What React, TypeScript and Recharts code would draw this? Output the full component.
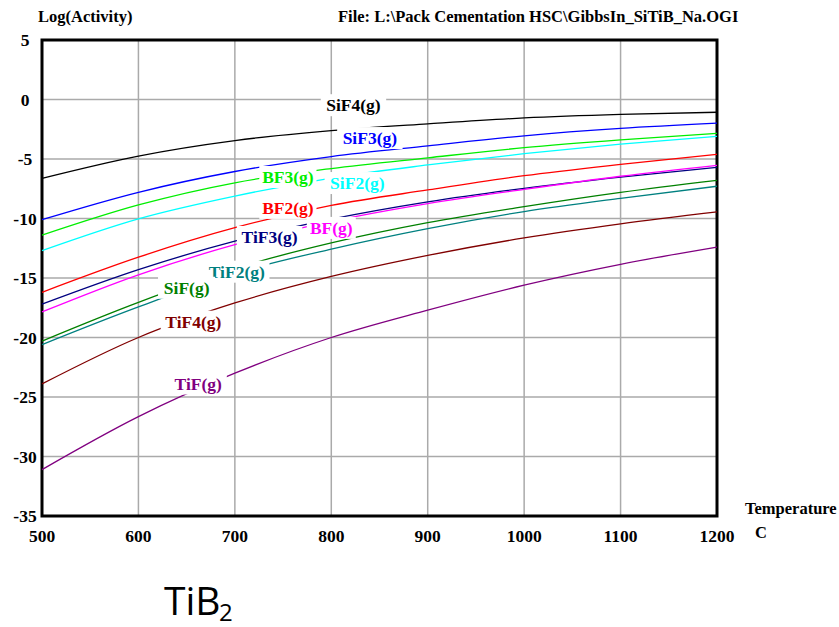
import React from "react";
import {
  LineChart, Line, XAxis, YAxis, CartesianGrid, ReferenceArea, ReferenceDot,
} from "recharts";

// temperature (C) and log(activity)
const temps = [500, 600, 700, 800, 900, 1000, 1100, 1200];
const sif4 = [-6.62, -4.75, -3.45, -2.62, -2.05, -1.55, -1.25, -1.07];
const sif3 = [-10.1, -7.8, -6.05, -4.8, -3.9, -3.05, -2.43, -1.99];
const bf3 = [-11.4, -8.86, -7.0, -5.8, -4.9, -4.05, -3.4, -2.85];
const sif2 = [-12.7, -10.03, -8.12, -6.6, -5.5, -4.55, -3.75, -3.1];
const bf2 = [-16.2, -13.25, -10.77, -8.9, -7.6, -6.4, -5.45, -4.6];
const tif3 = [-17.2, -14.3, -11.9, -10.05, -8.6, -7.46, -6.52, -5.7];
const bf = [-17.85, -14.73, -12.2, -10.25, -8.75, -7.55, -6.45, -5.53];
const sif = [-20.3, -17.05, -14.2, -12.05, -10.35, -9.0, -7.8, -6.79];
const tif2 = [-20.6, -17.43, -14.6, -12.57, -10.85, -9.42, -8.3, -7.29];
const tif4 = [-23.9, -20.0, -17.1, -14.87, -13.1, -11.63, -10.45, -9.45];
const tif = [-31.1, -26.65, -23.0, -20.0, -17.7, -15.6, -13.85, -12.4];

const yTicks = [-35, -30, -25, -20, -15, -10, -5, 0, 5];

const series = [
  { key: "SiF4", values: sif4, color: "#000000" },
  { key: "SiF3", values: sif3, color: "#0000ff" },
  { key: "BF3", values: bf3, color: "#00ee00" },
  { key: "SiF2", values: sif2, color: "#00ffff" },
  { key: "BF2", values: bf2, color: "#ff0000" },
  { key: "TiF3", values: tif3, color: "#000080" },
  { key: "BF", values: bf, color: "#ff00ff" },
  { key: "SiF", values: sif, color: "#008000" },
  { key: "TiF2", values: tif2, color: "#008080" },
  { key: "TiF4", values: tif4, color: "#800000" },
  { key: "TiF", values: tif, color: "#800080" },
];

// curve labels, placed in data coordinates
const labels = [
  { text: "SiF4(g)", t: 823, v: -0.48, color: "#000000" },
  { text: "SiF3(g)", t: 840, v: -3.24, color: "#0000ff" },
  { text: "BF3(g)", t: 755, v: -6.51, color: "#00ee00" },
  { text: "SiF2(g)", t: 827, v: -7.02, color: "#00ffff" },
  { text: "BF2(g)", t: 755, v: -9.11, color: "#ff0000" },
  { text: "TiF3(g)", t: 736, v: -11.55, color: "#000080" },
  { text: "BF(g)", t: 800, v: -10.79, color: "#ff00ff" },
  { text: "TiF2(g)", t: 702, v: -14.47, color: "#008080" },
  { text: "SiF(g)", t: 650, v: -15.82, color: "#008000" },
  { text: "TiF4(g)", t: 657, v: -18.67, color: "#800000" },
  { text: "TiF(g)", t: 662, v: -23.87, color: "#800080" },
];

const data = temps.map((t, i) => {
  const row: Record<string, number> = { t };
  series.forEach((s) => { row[s.key] = s.values[i]; });
  return row;
});

const serif = "'Liberation Serif', 'Times New Roman', serif";

const YTick = ({ x, y, payload }: any) => (
  <text x={x - 17} y={y} textAnchor="middle" dominantBaseline="central"
    fontFamily={serif} fontWeight="bold" fontSize={17.5} fill="#000">
    {payload.value}
  </text>
);

const curveLabel = (text: string, color: string) => (p: any) => {
  const w = text.length * 8.2 + 8;
  return (
    <g>
      <rect x={p.cx - w / 2} y={p.cy - 11} width={w} height={22} fill="#fff" />
      <text x={p.cx} y={p.cy} textAnchor="middle" dominantBaseline="central"
        fontFamily={serif} fontWeight="bold" fontSize={17.5} fill={color}>
        {text}
      </text>
    </g>
  );
};

export default function App() {
  return (
    <div style={{ position: "absolute", left: 0, top: 0, width: 839, height: 627, background: "#fff" }}>
      <LineChart width={839} height={627} data={data}
        margin={{ top: 40, right: 122, left: 0, bottom: 0 }}>
        <CartesianGrid stroke="#aaaaaa" strokeWidth={1.5} />
        <XAxis dataKey="t" type="number" domain={[500, 1200]} ticks={temps}
          axisLine={false} tickLine={false} tickSize={0} tickMargin={14} height={111}
          tick={{ fontFamily: serif, fontWeight: "bold", fontSize: 17.5, fill: "#000" }} />
        <YAxis type="number" domain={[-35, 5]} ticks={yTicks} width={42}
          axisLine={false} tickLine={false} tickSize={0} tickMargin={0} tick={<YTick />} />
        {series.map((s) => (
          <Line key={s.key} dataKey={s.key} type="monotone" stroke={s.color}
            strokeWidth={1.3} dot={false} isAnimationActive={false} />
        ))}
        {labels.map((l) => (
          <ReferenceDot key={l.text} x={l.t} y={l.v} r={1}
            shape={curveLabel(l.text, l.color)} ifOverflow="visible" />
        ))}
        <ReferenceArea x1={500} x2={1200} y1={-35} y2={5} fill="none"
          stroke="#000" strokeWidth={3} ifOverflow="visible" />
      </LineChart>
      <svg width={839} height={627} style={{ position: "absolute", left: 0, top: 0, pointerEvents: "none" }}>
        <g fontFamily={serif} fontWeight="bold" fontSize={16.5} fill="#000">
          <text x={38} y={22}>Log(Activity)</text>
          <text x={338} y={22}>File: L:\Pack Cementation HSC\GibbsIn_SiTiB_Na.OGI</text>
          <text x={745} y={514}>Temperature</text>
          <text x={755} y={538}>C</text>
        </g>
        <g fontFamily="'Open Sans', sans-serif" fill="#000">
          <text x={164} y={615} fontSize={39}>TiB</text>
          <text x={219} y={621} fontSize={24}>2</text>
        </g>
      </svg>
    </div>
  );
}
